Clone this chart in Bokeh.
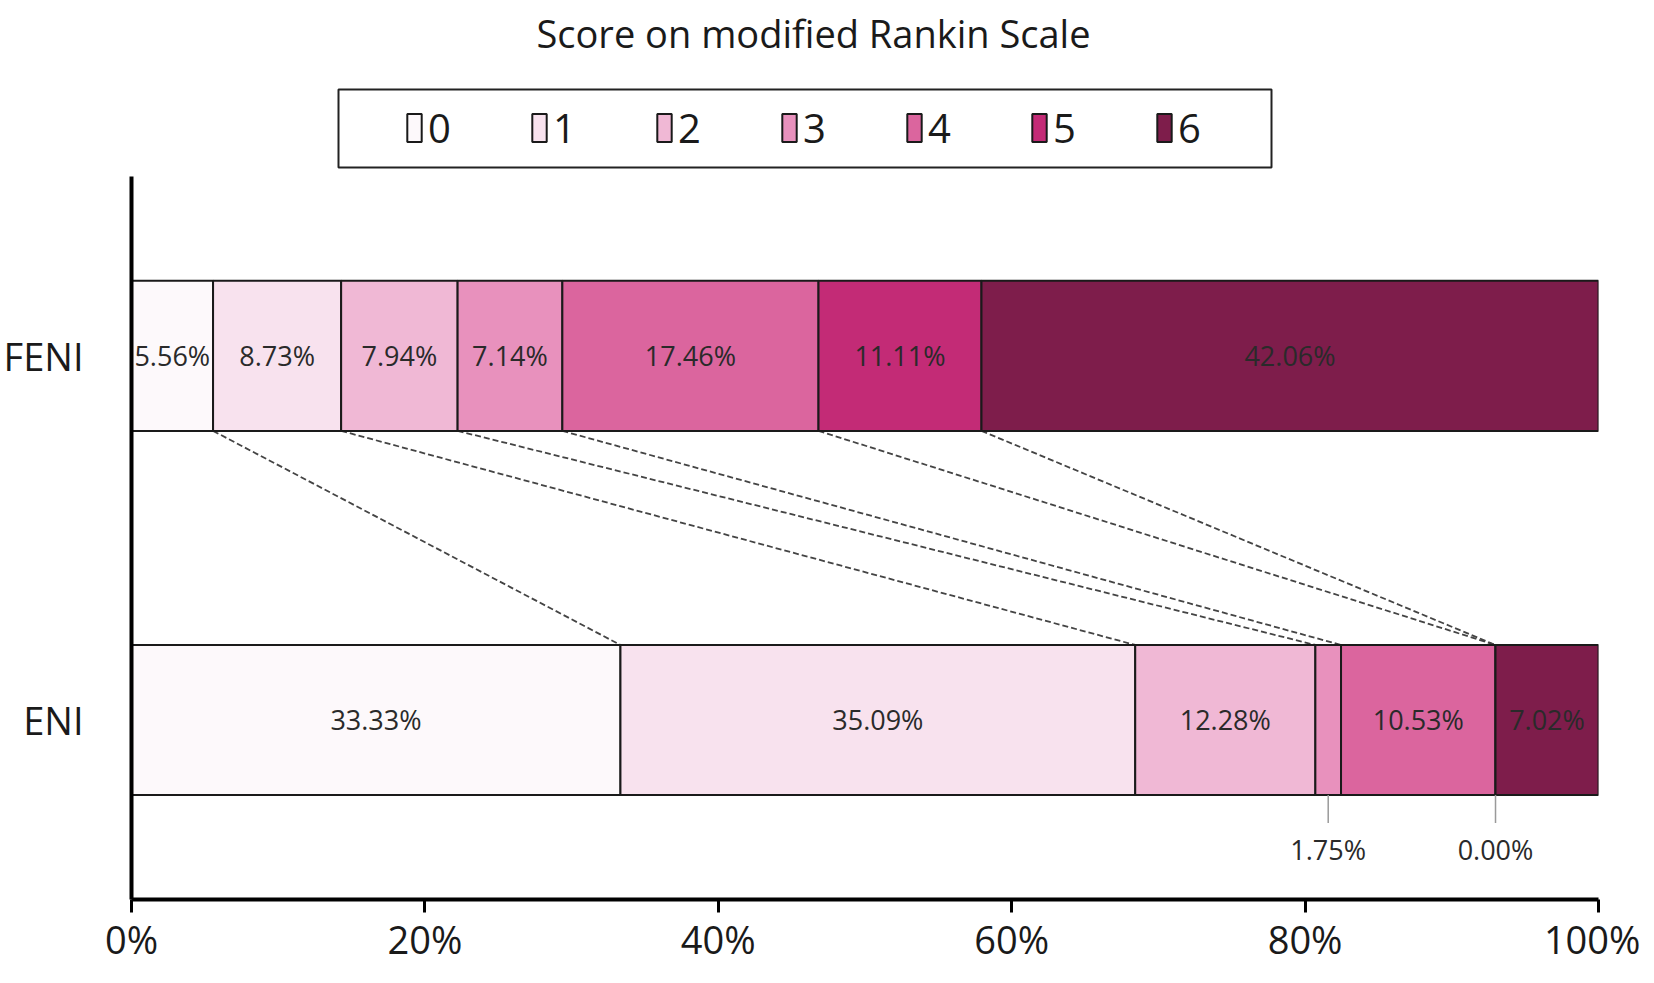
import numpy as np
from bokeh.plotting import figure
from bokeh.models import (ColumnDataSource, Range1d, FixedTicker, Legend, LegendItem,
                          Label, BoxAnnotation)
from bokeh.embed import file_html
from bokeh.resources import INLINE
from bokeh.core.properties import value

# ---------------- data ----------------
chart_title = "Score on modified Rankin Scale"
groups = ["FENI", "ENI"]
scores = ["0", "1", "2", "3", "4", "5", "6"]
feni = [5.56, 8.73, 7.94, 7.14, 17.46, 11.11, 42.06]
eni = [33.33, 35.09, 12.28, 1.75, 10.53, 0.00, 7.02]
x_ticks = [0, 20, 40, 60, 80, 100]
x_tick_labels = ["0%", "20%", "40%", "60%", "80%", "100%"]
colors = ["#FDF9FB", "#F8E2EE", "#F0B8D5", "#E891BD", "#DB659E", "#C32B76", "#7E1D4B"]

# ---------------- style ----------------
FONT = "Open Sans"
TXT = "#1a1a1a"
Y_POS = {"FENI": 1.493, "ENI": 0.493}
H = 0.412
SMALL = 5.0           # ENI segments narrower than this get an outside label
LEAD_END = 0.21
SMALL_LABEL_Y = 0.138
Y_TOP = 2.469         # room above the bars for the title and legend

vals = {"FENI": feni, "ENI": eni}
cum = {g: np.concatenate([[0.0], np.cumsum(vals[g])]) for g in groups}

p = figure(width=1640, height=967,
           x_range=Range1d(0, 100), y_range=Range1d(0, Y_TOP),
           output_backend="svg", toolbar_location=None,
           min_border_left=124, min_border_right=42,
           min_border_top=0, min_border_bottom=60)
p.grid.visible = False
p.outline_line_color = None
p.background_fill_color = "white"

# connector (series) lines between the bars
p.segment(x0=[cum["FENI"][k + 1] for k in range(6)], y0=Y_POS["FENI"] - H / 2,
          x1=[cum["ENI"][k + 1] for k in range(6)], y1=Y_POS["ENI"] + H / 2,
          line_color="#444444", line_width=1.8, line_dash="6 3")

items = []
for k, s in enumerate(scores):
    src = ColumnDataSource(dict(
        y=[Y_POS[g] for g in groups],
        left=[cum[g][k] for g in groups],
        right=[cum[g][k + 1] for g in groups],
    ))
    r = p.hbar(y="y", left="left", right="right", height=H, source=src,
               fill_color=colors[k], line_color=TXT, line_width=2)
    items.append(LegendItem(label=s, renderers=[r]))

# data labels
lx, ly, lt = [], [], []
sx, sy, st = [], [], []
for g in groups:
    for k in range(len(scores)):
        v = vals[g][k]
        mid = (cum[g][k] + cum[g][k + 1]) / 2
        if g == "ENI" and v < SMALL:
            sx.append(mid)
            sy.append(SMALL_LABEL_Y)
            st.append(f"{v:.2f}%")
        else:
            lx.append(mid)
            ly.append(Y_POS[g])
            lt.append(f"{v:.2f}%")

p.text(x=lx, y=ly, text=lt, text_font=value(FONT), text_font_size="27px",
       text_color="#2a2a2a", text_align="center", text_baseline="middle")
p.segment(x0=sx, y0=Y_POS["ENI"] - H / 2, x1=sx, y1=LEAD_END,
          line_color="#9a9a9a", line_width=1.5)
p.text(x=sx, y=sy, text=st, text_font=value(FONT), text_font_size="27px",
       text_color="#2a2a2a", text_align="center", text_baseline="middle")

# axes
xa = p.xaxis[0]
xa.ticker = FixedTicker(ticks=x_ticks)
xa.major_label_overrides = {t: l for t, l in zip(x_ticks, x_tick_labels)}
xa.axis_line_width = 4
xa.axis_line_color = "black"
xa.major_tick_line_width = 3
xa.major_tick_line_color = "black"
xa.major_tick_out = 13
xa.major_tick_in = 0
xa.minor_tick_line_color = None
xa.major_label_text_font = FONT
xa.major_label_text_font_size = "38px"
xa.major_label_text_color = TXT
xa.major_label_standoff = 0

ya = p.yaxis[0]
ya.bounds = (0, 1.985)
ya.ticker = FixedTicker(ticks=[Y_POS[g] for g in groups])
ya.major_label_overrides = {Y_POS[g]: g for g in groups}
ya.axis_line_width = 4
ya.axis_line_color = "black"
ya.major_tick_line_color = None
ya.minor_tick_line_color = None
ya.major_label_text_font = FONT
ya.major_label_text_font_size = "38px"
ya.major_label_text_color = TXT
ya.major_label_standoff = 42

# legend frame (wider than the legend's own padding allows)
p.add_layout(BoxAnnotation(left=207, right=1140, bottom=732, top=810,
                           left_units="screen", right_units="screen",
                           bottom_units="screen", top_units="screen",
                           fill_color="white", fill_alpha=1,
                           line_color="#222222", line_alpha=1, line_width=2))

legend = Legend(items=items, orientation="horizontal", location=(262, 732),
                glyph_width=18, glyph_height=35,
                label_text_font=FONT, label_text_font_size="40px",
                label_text_color=TXT, label_standoff=5, label_width=60,
                spacing=42, padding=12, margin=0,
                border_line_alpha=0, background_fill_alpha=0)
p.add_layout(legend)

p.add_layout(Label(x=682, y=867, x_units="screen", y_units="screen",
                   text=chart_title, text_font=FONT, text_font_size="38px",
                   text_align="center", text_baseline="middle", text_color=TXT))

open("out.html", "w").write(file_html(p, INLINE))
